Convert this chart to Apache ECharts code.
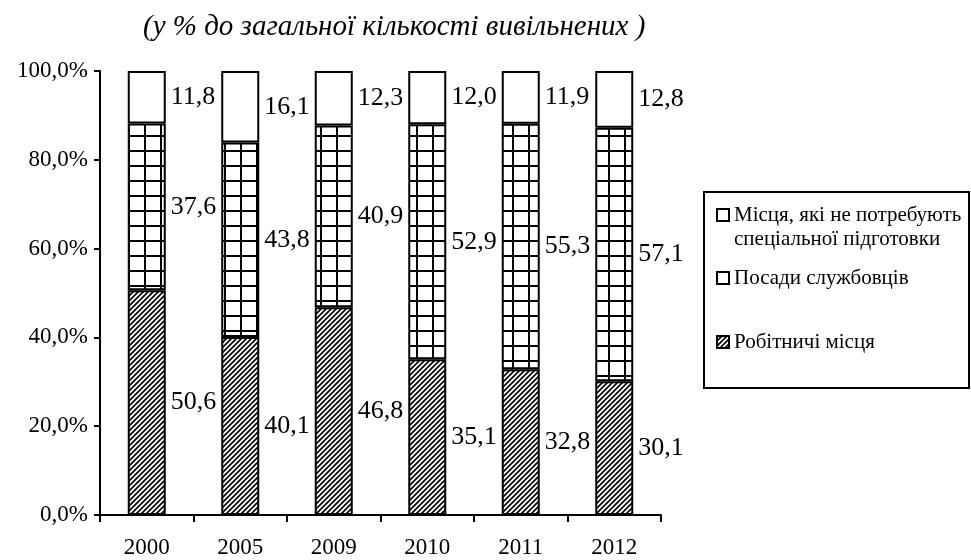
<!DOCTYPE html>
<html>
<head>
<meta charset="utf-8">
<script src="https://cdn.jsdelivr.net/npm/echarts@6/dist/echarts.min.js"></script>
<style>
html,body{margin:0;padding:0;background:#fff;}
#chart{width:971px;height:560px;}
</style>
</head>
<body>
<div id="chart"></div>
<script>
// ---- data ----
const categories = ['2000', '2005', '2009', '2010', '2011', '2012'];
const workerPlaces = [50.6, 40.1, 46.8, 35.1, 32.8, 30.1];       // Робітничі місця
const officePositions = [37.6, 43.8, 40.9, 52.9, 55.3, 57.1];    // Посади службовців
const unskilledPlaces = [11.8, 16.1, 12.3, 12.0, 11.9, 12.8];    // Місця, які не потребують спеціальної підготовки
const yTickLabels = ['0,0%', '20,0%', '40,0%', '60,0%', '80,0%', '100,0%'];
const seriesNames = ['Робітничі місця', 'Посади службовців', 'Місця, які не потребують спеціальної підготовки'];
const legendLabels = ['Робітничі місця', 'Посади службовців', '\nМісця, які не потребують\nспеціальної підготовки'];
const titleText = '(у % до загальної кількості вивільнених )';

const FONT = "'Liberation Serif', 'Times New Roman', serif";

function hatchPattern() {
  const s = 5;
  const c = document.createElement('canvas');
  c.width = s; c.height = s;
  const g = c.getContext('2d');
  g.fillStyle = '#fff'; g.fillRect(0, 0, s, s);
  g.strokeStyle = '#000'; g.lineWidth = 1.7;
  g.beginPath();
  g.moveTo(-1, s + 1); g.lineTo(s + 1, -1);
  g.moveTo(-1, 1); g.lineTo(1, -1);
  g.moveTo(s - 1, s + 1); g.lineTo(s + 1, s - 1);
  g.stroke();
  return c;
}
function gridPattern() {
  const w = 16, h = 15;
  const c = document.createElement('canvas');
  c.width = w; c.height = h;
  const g = c.getContext('2d');
  g.fillStyle = '#fff'; g.fillRect(0, 0, w, h);
  g.fillStyle = '#000';
  g.fillRect(0, 0, 2, h);
  g.fillRect(0, 0, w, 2);
  return c;
}

const fmt = v => v.toFixed(1).replace('.', ',');
const labelCfg = {
  show: true, position: 'right', distance: 5, color: '#000',
  fontFamily: FONT, fontSize: 26,
  formatter: p => fmt(p.value)
};

const chart = echarts.init(document.getElementById('chart'), null, {renderer: 'canvas'});
const hatch = {image: hatchPattern(), repeat: 'repeat'};
const grid = {image: gridPattern(), repeat: 'repeat'};

const legendBase = {
  orient: 'vertical', left: 716, padding: 0,
  icon: 'rect', itemWidth: 12, itemHeight: 12,
  textStyle: {fontFamily: FONT, fontSize: 21, lineHeight: 24, color: '#000'},
  selectedMode: false,
  formatter: name => legendLabels[seriesNames.indexOf(name)]
};

chart.setOption({
  animation: false,
  backgroundColor: '#fff',
  title: {
    text: titleText, left: 138, top: 8,
    textStyle: {fontFamily: FONT, fontSize: 29, fontStyle: 'italic', fontWeight: 'normal', color: '#000'}
  },
  grid: {left: 100, right: 310, top: 71, bottom: 45, containLabel: false},
  legend: [
    Object.assign({}, legendBase, {
      top: 179,
      data: [{name: seriesNames[2], itemStyle: {color: '#fff', borderColor: '#000', borderWidth: 2}}]
    }),
    Object.assign({}, legendBase, {
      top: 266,
      data: [{name: seriesNames[1], itemStyle: {color: '#fff', borderColor: '#000', borderWidth: 2}}]
    }),
    Object.assign({}, legendBase, {
      top: 330,
      data: [{name: seriesNames[0], itemStyle: {borderColor: '#000', borderWidth: 2}}]
    })
  ],
  graphic: [{
    type: 'rect', shape: {x: 704, y: 192, width: 265, height: 196},
    style: {fill: 'none', stroke: '#000', lineWidth: 2}, silent: true
  }],
  xAxis: {
    type: 'category', data: categories,
    axisLine: {lineStyle: {color: '#000', width: 2}},
    axisTick: {show: true, length: 7, lineStyle: {color: '#000', width: 2}},
    axisLabel: {color: '#000', fontFamily: FONT, fontSize: 23, margin: 21},
    splitLine: {show: false}
  },
  yAxis: {
    type: 'value', min: 0, max: 100, interval: 20,
    axisLine: {show: true, lineStyle: {color: '#000', width: 2}},
    axisTick: {show: true, length: 6, lineStyle: {color: '#000', width: 2}},
    axisLabel: {color: '#000', fontFamily: FONT, fontSize: 23, margin: 12,
      formatter: v => yTickLabels[Math.round(v / 20)]},
    splitLine: {show: false}
  },
  series: [
    {name: seriesNames[0], type: 'bar', stack: 'all', barWidth: 38, data: workerPlaces,
      itemStyle: {color: hatch, borderColor: '#000', borderWidth: 2}, label: labelCfg},
    {name: seriesNames[1], type: 'bar', stack: 'all', barWidth: 38, data: officePositions,
      itemStyle: {color: grid, borderColor: '#000', borderWidth: 2}, label: labelCfg},
    {name: seriesNames[2], type: 'bar', stack: 'all', barWidth: 38, data: unskilledPlaces,
      itemStyle: {color: '#fff', borderColor: '#000', borderWidth: 2}, label: labelCfg}
  ]
});
</script>
</body>
</html>
